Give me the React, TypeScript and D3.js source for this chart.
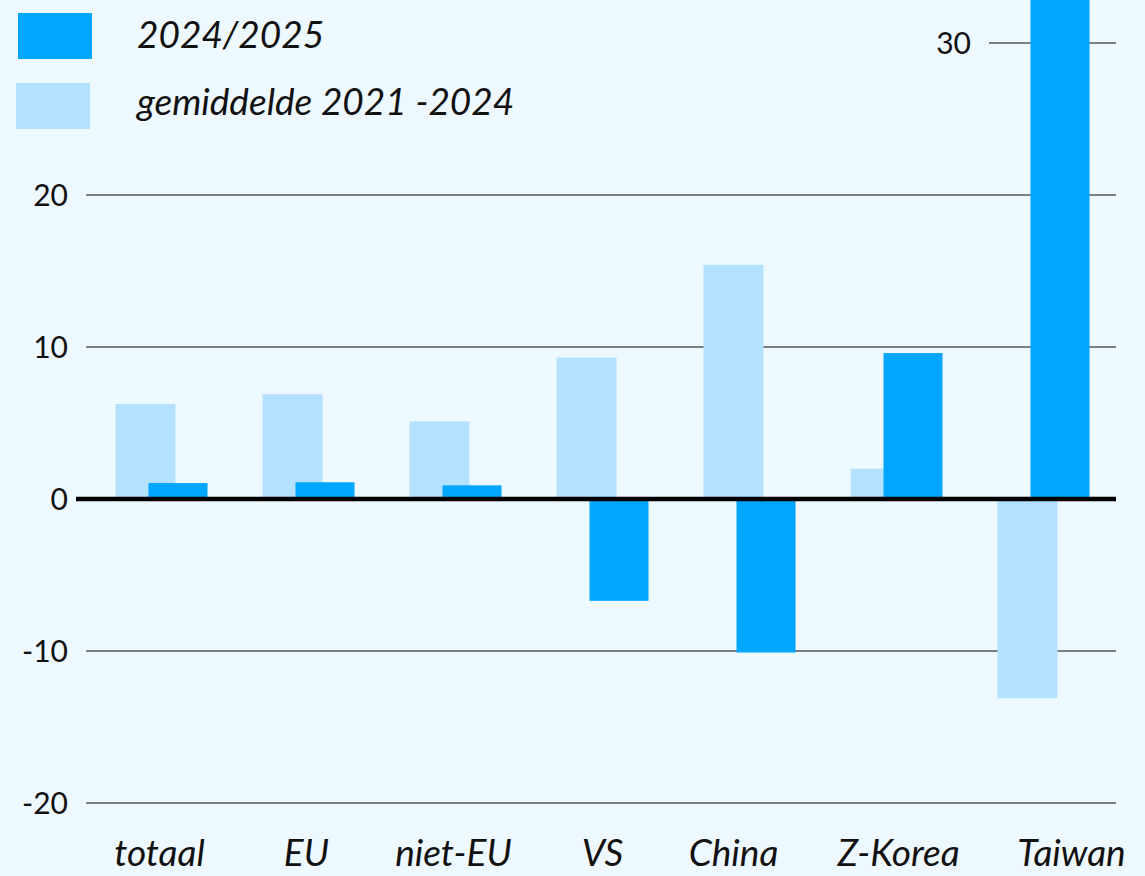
import React from "react";
import * as d3 from "d3";

const categories = ["totaal", "EU", "niet-EU", "VS", "China", "Z-Korea", "Taiwan"];
const current = [1.05, 1.1, 0.9, -6.7, -10.1, 9.6, 40];
const average = [6.25, 6.9, 5.1, 9.3, 15.4, 2.0, -13.1];
const yTicks = [-20, -10, 0, 10, 20, 30];
const legendLabels = ["2024/2025", "gemiddelde 2021 -2024"];

const W = 1145;
const H = 876;
const DARK = "#00a6ff";
const LIGHT = "#b3e1ff";
const BG = "#eef8ff";
const FONT = "Lato, 'Open Sans', sans-serif";
// small horizontal label nudges (layout only)
const labelNudge: Record<string, number> = { totaal: -2, EU: -2, "niet-EU": -2, VS: 0, China: -16, "Z-Korea": 2, Taiwan: 28 };

export default function App() {
  const x = d3.scaleBand<string>().domain(categories).range([88, 1117]).padding(0);
  const y = d3.scaleLinear().domain([-20, 30]).range([803, 43]);
  const barW = 60;
  const cx = (c: string) => (x(c) as number) + x.bandwidth() / 2;

  return (
    <svg
      width={W}
      height={H}
      style={{ position: "absolute", left: 0, top: 0, background: BG }}
    >
      <rect x={0} y={0} width={W} height={H} fill={BG} />
      {yTicks.filter((t) => t !== 0).map((t) => (
        <g key={t}>
          <line
            x1={t === 30 ? 989 : 86}
            x2={1116}
            y1={y(t)}
            y2={y(t)}
            stroke="#555"
            strokeWidth={1.5}
          />
          <text
            x={t === 30 ? 971 : 68}
            y={y(t)}
            dy="0.36em"
            textAnchor="end"
            fontFamily={FONT}
            fontSize={30}
            fill="#111"
          >
            {t}
          </text>
        </g>
      ))}
      <text x={68} y={y(0)} dy="0.36em" textAnchor="end" fontFamily={FONT} fontSize={30} fill="#111">
        0
      </text>
      {categories.map((c, i) => {
        const v = average[i];
        return (
          <rect
            key={"a" + c}
            x={cx(c) - 46}
            width={barW}
            y={Math.min(y(v), y(0))}
            height={Math.abs(y(v) - y(0))}
            fill={LIGHT}
          />
        );
      })}
      {categories.map((c, i) => {
        const v = current[i];
        return (
          <rect
            key={"c" + c}
            x={cx(c) - 13}
            width={59}
            y={Math.min(y(v), y(0))}
            height={Math.abs(y(v) - y(0))}
            fill={DARK}
          />
        );
      })}
      <line x1={76} x2={1116} y1={y(0)} y2={y(0)} stroke="#000" strokeWidth={4.5} />
      {categories.map((c) => (
        <text
          key={"l" + c}
          x={cx(c) + (labelNudge[c] || 0)}
          y={866}
          textAnchor="middle"
          fontFamily={FONT}
          fontStyle="italic"
          fontSize={37}
          fill="#111"
        >
          {c}
        </text>
      ))}
      <rect x={18} y={13} width={74} height={46} fill={DARK} />
      <rect x={16} y={83} width={74} height={46} fill={LIGHT} />
      <text x={137} y={48} fontFamily={FONT} fontStyle="italic" fontSize={37} fill="#111">
        {legendLabels[0]}
      </text>
      <text x={137} y={115} fontFamily={FONT} fontStyle="italic" fontSize={37} fill="#111">
        {legendLabels[1]}
      </text>
    </svg>
  );
}
